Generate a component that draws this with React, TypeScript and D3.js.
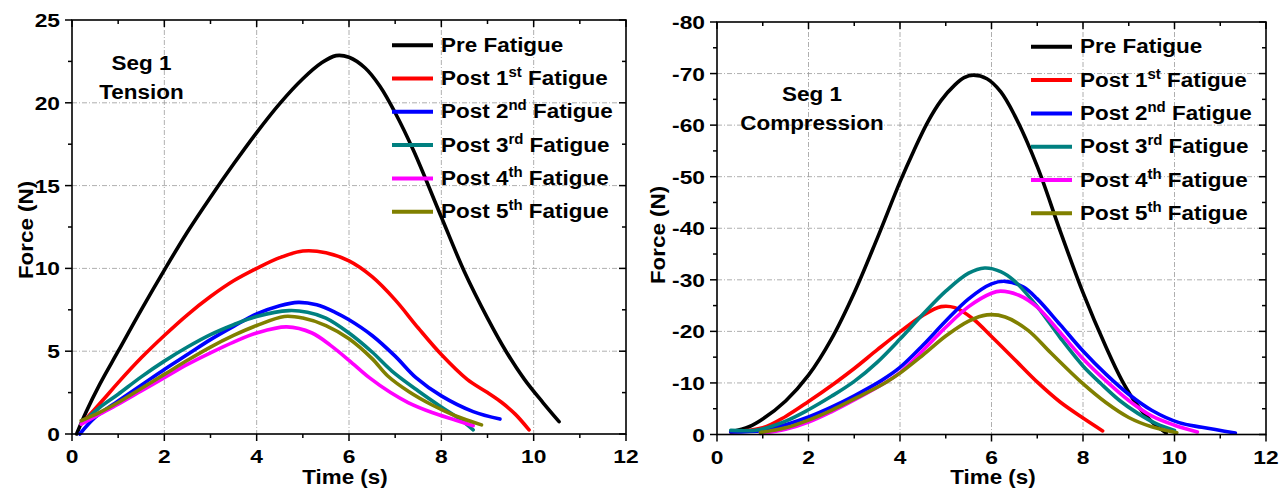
import React from "react";
import * as d3 from "d3";

// ---------- DATA ----------
const seriesNames = ["Pre Fatigue", "Post 1st Fatigue", "Post 2nd Fatigue", "Post 3rd Fatigue", "Post 4th Fatigue", "Post 5th Fatigue"];
const seriesColors = ["#000000", "#FF0000", "#0000FF", "#008080", "#FF00FF", "#808000"];
const xTicks = [0, 2, 4, 6, 8, 10, 12];
const tensionTicks = [0, 5, 10, 15, 20, 25];
const compressionTicks = [0, -10, -20, -30, -40, -50, -60, -70, -80];

// Tension (N) vs time (s)
const tensionPre: [number, number][] = [[0.1,0],[0.3,1.3],[0.6,3.0],[1,5.0],[1.5,7.5],[2,9.9],[2.5,12.2],[3,14.3],[3.5,16.3],[4,18.2],[4.5,19.95],[5,21.45],[5.4,22.4],[5.72,22.85],[6,22.75],[6.35,22.1],[6.67,21.0],[7,19.4],[7.4,17.1],[8,13.1],[8.5,9.8],[9,7.0],[9.4,5.0],[9.8,3.3],[10.2,1.9],[10.55,0.75]];
const tensionPost1: [number, number][] = [[0.2,0.6],[0.67,2.05],[1,3.1],[1.5,4.6],[2,5.95],[2.5,7.2],[3,8.3],[3.5,9.25],[4,10.0],[4.5,10.65],[5,11.05],[5.5,10.95],[6,10.45],[6.5,9.5],[7,8.1],[7.5,6.4],[8,4.8],[8.56,3.3],[9,2.5],[9.31,1.9],[9.6,1.2],[9.9,0.25]];
const tensionPost2: [number, number][] = [[0.17,0],[0.5,1.0],[1,2.0],[1.5,2.95],[2,3.9],[2.5,4.8],[3,5.7],[3.5,6.5],[4,7.25],[4.5,7.75],[4.9,7.95],[5.3,7.8],[5.7,7.35],[6,6.9],[6.5,5.95],[7,4.7],[7.45,3.4],[8,2.3],[8.69,1.35],[9.27,0.9]];
const tensionPost3: [number, number][] = [[0.2,0.6],[0.6,1.6],[1,2.4],[1.5,3.45],[2,4.4],[2.5,5.25],[3,6.0],[3.5,6.6],[4,7.1],[4.7,7.45],[5.1,7.35],[5.5,7.0],[6,6.1],[6.5,4.95],[6.93,3.8],[7.5,2.6],[7.99,1.65],[8.4,0.9],[8.69,0.25]];
const tensionPost4: [number, number][] = [[0.2,0.6],[0.6,1.2],[1,1.8],[1.5,2.6],[2,3.4],[2.5,4.2],[3,4.9],[3.5,5.55],[4,6.1],[4.65,6.47],[5.2,6.1],[5.6,5.35],[6,4.45],[6.44,3.4],[6.9,2.5],[7.28,1.9],[7.8,1.3],[8.3,0.85],[8.69,0.5]];
const tensionPost5: [number, number][] = [[0.2,0.8],[0.6,1.3],[1,1.9],[1.5,2.75],[2,3.6],[2.5,4.45],[3,5.25],[3.5,5.95],[4,6.55],[4.6,7.1],[5,7.0],[5.5,6.55],[6,5.75],[6.5,4.55],[6.84,3.5],[7.3,2.55],[7.8,1.75],[8.3,1.1],[8.87,0.55]];

// Compression (N) vs time (s)
const compPre: [number, number][] = [[0.3,-0.5],[0.7,-1.5],[1,-3],[1.5,-6.5],[2,-11.5],[2.5,-18.5],[3,-27.5],[3.5,-38],[4,-49],[4.3,-55],[4.6,-60.5],[4.9,-64.8],[5.2,-67.8],[5.4,-69.2],[5.6,-69.7],[5.9,-69],[6.2,-66.5],[6.5,-62],[7,-52],[7.5,-39.5],[8,-27.5],[8.5,-17],[8.85,-10.5],[9.2,-5.5],[9.5,-2.5],[9.82,-0.3]];
const compPost1: [number, number][] = [[0.3,-0.5],[1,-1.3],[1.5,-3.5],[2,-6.4],[2.58,-10],[3,-12.8],[3.5,-16.4],[4,-19.9],[4.5,-23.1],[4.9,-24.8],[5.2,-24.6],[5.6,-22.4],[6,-19],[6.5,-14.6],[7.02,-10],[7.5,-6.3],[8,-3.2],[8.43,-0.7]];
const compPost2: [number, number][] = [[0.3,-0.5],[1,-0.8],[1.5,-1.9],[2,-3.4],[2.5,-5.3],[3,-7.5],[3.6,-10.5],[4,-13],[4.5,-17.3],[5,-22],[5.5,-26.3],[6,-29.2],[6.3,-29.7],[6.7,-28.6],[7,-26.3],[7.5,-21.3],[8,-16.2],[8.5,-11.7],[9,-7.8],[9.5,-4.7],[10.1,-2.3],[10.6,-1.4],[11.33,-0.3]];
const compPost3: [number, number][] = [[0.3,-0.8],[0.9,-0.9],[1.5,-2.6],[2,-4.8],[2.5,-7.4],[3,-10.3],[3.5,-14],[4,-18.5],[4.5,-23.3],[5,-27.8],[5.5,-31.3],[5.85,-32.3],[6.2,-31.6],[6.5,-29.8],[7,-24.8],[7.5,-18.8],[8,-13.3],[8.4,-9.8],[8.8,-6.6],[9.2,-4.1],[9.6,-2.1],[10,-0.8]];
const compPost4: [number, number][] = [[0.95,-0.2],[1.5,-1],[2,-2.4],[2.5,-4.4],[3,-6.7],[3.7,-10.2],[4,-12],[4.5,-16.3],[5,-20.8],[5.5,-24.8],[6,-27.4],[6.2,-27.8],[6.6,-27],[7,-24.7],[7.5,-19.8],[8,-14.7],[8.55,-10],[9,-6.6],[9.5,-3.6],[10,-1.8],[10.5,-0.5]];
const compPost5: [number, number][] = [[0.95,-0.4],[1.5,-1.3],[2,-2.8],[2.5,-4.7],[3,-6.9],[3.67,-10],[4,-11.9],[4.5,-15.4],[5,-19.1],[5.5,-22],[5.9,-23.2],[6.3,-22.8],[6.8,-20.2],[7.3,-15.8],[7.98,-10],[8.5,-6.2],[9,-3.3],[9.5,-1.5],[10.05,-0.35]];

const tensionSeries = [tensionPre, tensionPost1, tensionPost2, tensionPost3, tensionPost4, tensionPost5];
const compressionSeries = [compPre, compPost1, compPost2, compPost3, compPost4, compPost5];

// ---------- helpers ----------
const FONT = "'Liberation Sans', Arial, sans-serif";

function T(props: { x: number; y: number; sx?: number; size: number; anchor?: string; rotate?: number; children: React.ReactNode }) {
  const { x, y, sx = 1, size, anchor = "start", rotate = 0, children } = props;
  return (
    <text
      transform={`translate(${x},${y}) rotate(${rotate}) scale(${sx},1)`}
      fontFamily={FONT}
      fontWeight="bold"
      fontSize={size}
      textAnchor={anchor}
      fill="#000"
    >
      {children}
    </text>
  );
}

function LegendLabel({ name }: { name: string }) {
  const m = name.match(/^(Post \d)(st|nd|rd|th)( Fatigue)$/);
  if (!m) return <>{name}</>;
  return (
    <>
      <tspan>{m[1]}</tspan>
      <tspan dy={-8} fontSize={14}>{m[2]}</tspan>
      <tspan dy={8}>{m[3]}</tspan>
    </>
  );
}

type PanelProps = {
  x0: number; x1: number; y0: number; y1: number;
  yDomain: [number, number]; yTicks: number[]; yMinorStep: number;
  series: [number, number][][];
  annot: string[]; annotX: number; annotY: number;
  legendX: number; legendY: number;
  yTitleX: number; yTitleY: number; xTitleX: number;
};

function Panel(p: PanelProps) {
  const xs = d3.scaleLinear().domain([0, 12]).range([p.x0, p.x1]);
  const ys = d3.scaleLinear().domain(p.yDomain).range([p.y1, p.y0]);
  const line = d3.line<[number, number]>().x(d => xs(d[0])).y(d => ys(d[1])).curve(d3.curveCatmullRom.alpha(0.5));
  const xMinor = d3.range(1, 12, 2);
  const [ya, yb] = p.yDomain;
  const lo = Math.min(ya, yb), hi = Math.max(ya, yb);
  const yMinor = d3.range(lo + p.yMinorStep, hi, p.yMinorStep * 2);
  const grid = "#9a9a9a";
  const dash = "5,2,1,2";
  return (
    <g>
      {/* grid */}
      {xTicks.filter(t => t > 0 && t < 12).map(t => (
        <line key={"gx" + t} x1={xs(t)} x2={xs(t)} y1={p.y0} y2={p.y1} stroke={grid} strokeWidth={0.8} strokeDasharray={dash} />
      ))}
      {p.yTicks.filter(t => t !== ya && t !== yb).map(t => (
        <line key={"gy" + t} x1={p.x0} x2={p.x1} y1={ys(t)} y2={ys(t)} stroke={grid} strokeWidth={0.8} strokeDasharray={dash} />
      ))}
      {/* curves */}
      {p.series.map((s, i) => (
        <path key={"s" + i} d={line(s) || ""} fill="none" stroke={seriesColors[i]} strokeWidth={3.6} strokeLinecap="round" strokeLinejoin="round" />
      ))}
      {/* frame */}
      <rect x={p.x0} y={p.y0} width={p.x1 - p.x0} height={p.y1 - p.y0} fill="none" stroke="#000" strokeWidth={1.6} />
      {/* x ticks bottom (out) and top (in) */}
      {xTicks.map(t => (
        <g key={"xt" + t}>
          <line x1={xs(t)} x2={xs(t)} y1={p.y1} y2={p.y1 + 7} stroke="#000" strokeWidth={1.5} />
          <line x1={xs(t)} x2={xs(t)} y1={p.y0} y2={p.y0 + 7} stroke="#000" strokeWidth={1.5} />
          <T x={xs(t)} y={p.y1 + 29} size={19} sx={1.2} anchor="middle">{String(t)}</T>
        </g>
      ))}
      {xMinor.map(t => (
        <g key={"xm" + t}>
          <line x1={xs(t)} x2={xs(t)} y1={p.y1} y2={p.y1 + 4} stroke="#000" strokeWidth={1.5} />
          <line x1={xs(t)} x2={xs(t)} y1={p.y0} y2={p.y0 + 4} stroke="#000" strokeWidth={1.5} />
        </g>
      ))}
      {/* y ticks left (out) right (in) */}
      {p.yTicks.map(t => (
        <g key={"yt" + t}>
          <line x1={p.x0 - 7} x2={p.x0} y1={ys(t)} y2={ys(t)} stroke="#000" strokeWidth={1.5} />
          <line x1={p.x1 - 7} x2={p.x1} y1={ys(t)} y2={ys(t)} stroke="#000" strokeWidth={1.5} />
          <T x={p.x0 - 12} y={ys(t) + 7} size={19} sx={1.2} anchor="end">{String(t)}</T>
        </g>
      ))}
      {yMinor.map(t => (
        <g key={"ym" + t}>
          <line x1={p.x0 - 4} x2={p.x0} y1={ys(t)} y2={ys(t)} stroke="#000" strokeWidth={1.5} />
          <line x1={p.x1 - 4} x2={p.x1} y1={ys(t)} y2={ys(t)} stroke="#000" strokeWidth={1.5} />
        </g>
      ))}
      {/* titles */}
      <T x={p.xTitleX} y={484} size={20} sx={1.12} anchor="middle">Time (s)</T>
      <T x={p.yTitleX} y={p.yTitleY} size={20} sx={1.12} anchor="middle" rotate={-90}>Force (N)</T>
      {/* annotation */}
      {p.annot.map((a, i) => (
        <T key={"an" + i} x={p.annotX} y={p.annotY + i * 29} size={21} sx={1.07} anchor="middle">{a}</T>
      ))}
      {/* legend */}
      {seriesNames.map((n, i) => {
        const by = p.legendY + i * 33.3;
        return (
          <g key={"lg" + i}>
            <line x1={p.legendX} x2={p.legendX + 41} y1={by - 6.5} y2={by - 6.5} stroke={seriesColors[i]} strokeWidth={4} />
            <T x={p.legendX + 49} y={by} size={21} sx={1.07}><LegendLabel name={n} /></T>
          </g>
        );
      })}
    </g>
  );
}

export default function App() {
  return (
    <svg width={1288} height={493} style={{ position: "absolute", left: 0, top: 0, background: "#fff" }}>
      <rect x={0} y={0} width={1288} height={493} fill="#fff" />
      <Panel
        x0={72} x1={626} y0={20} y1={434}
        yDomain={[0, 25]} yTicks={tensionTicks} yMinorStep={2.5}
        series={tensionSeries}
        annot={["Seg 1", "Tension"]} annotX={141.5} annotY={70}
        legendX={392} legendY={51.7}
        yTitleX={33} yTitleY={230} xTitleX={345}
      />
      <Panel
        x0={717} x1={1266} y0={22} y1={434.5}
        yDomain={[0, -80]} yTicks={compressionTicks} yMinorStep={5}
        series={compressionSeries}
        annot={["Seg 1", "Compression"]} annotX={812} annotY={101}
        legendX={1031} legendY={53.3}
        yTitleX={665} yTitleY={235} xTitleX={993}
      />
    </svg>
  );
}
